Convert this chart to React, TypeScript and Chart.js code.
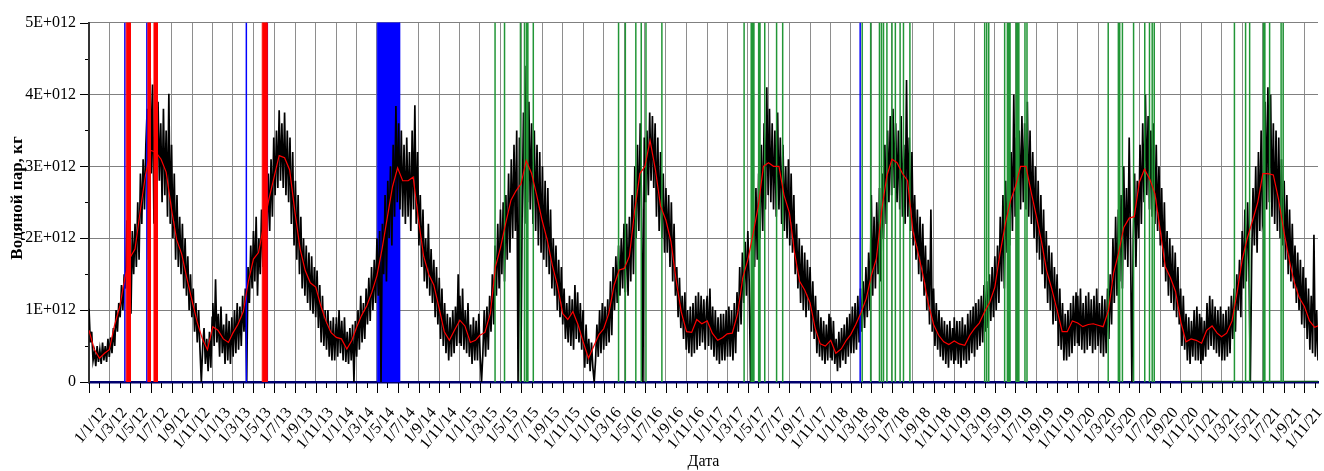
import React, { useEffect, useRef } from "react";
import { Chart, registerables } from "chart.js";

Chart.register(...registerables);

const SERIF = '"Liberation Serif", "Times New Roman", serif';

// Axis tick labels (d/m/yy), one every two months
const xTickLabels = [
  "1/1/12", "1/3/12", "1/5/12", "1/7/12", "1/9/12", "1/11/12",
  "1/1/13", "1/3/13", "1/5/13", "1/7/13", "1/9/13", "1/11/13",
  "1/1/14", "1/3/14", "1/5/14", "1/7/14", "1/9/14", "1/11/14",
  "1/1/15", "1/3/15", "1/5/15", "1/7/15", "1/9/15", "1/11/15",
  "1/1/16", "1/3/16", "1/5/16", "1/7/16", "1/9/16", "1/11/16",
  "1/1/17", "1/3/17", "1/5/17", "1/7/17", "1/9/17", "1/11/17",
  "1/1/18", "1/3/18", "1/5/18", "1/7/18", "1/9/18", "1/11/18",
  "1/1/19", "1/3/19", "1/5/19", "1/7/19", "1/9/19", "1/11/19",
  "1/1/20", "1/3/20", "1/5/20", "1/7/20", "1/9/20", "1/11/20",
  "1/1/21", "1/3/21", "1/5/21", "1/7/21", "1/9/21", "1/11/21",
];
const yTickValues = [0, 1, 2, 3, 4, 5]; // ×1E+012 kg

// Water vapour mass, ×1E+012 kg, sampled every 4 days from 1 January of each year
const vapour2012 = [
  1.02, 0.55, 0.70, 0.30, 0.42, 0.22, 0.50, 0.28, 0.45, 0.25, 0.55, 0.30, 0.50, 0.28, 0.60, 0.35, 0.62, 0.40, 0.75, 0.50, 1.00, 0.70, 1.10,
  0.90, 1.35, 1.00, 1.50, 1.30, 2.25, 1.20, 1.80, 0.95, 2.10, 1.50, 2.20, 1.60, 2.50, 1.70, 2.90, 2.20, 3.10, 2.40, 3.30, 3.80, 1.70, 4.58,
  2.90, 4.14, 2.20, 3.70, 2.60, 3.90, 2.80, 3.60, 2.50, 3.80, 2.60, 3.50, 2.30, 4.01, 2.20, 3.30, 2.00, 2.90, 1.70, 2.60, 1.60, 2.30, 1.50,
  2.20, 1.30, 2.00, 1.20, 1.75, 1.00, 1.50, 0.90, 1.30, 0.70, 1.10, 0.55, 1.00, 0.45, 0.00, 0.50, 0.75, 0.25, 0.60, 0.15, 0.70, 0.20, 0.90,
];
const vapour2013 = [
  1.10, 0.50, 1.43, 0.55, 0.95, 0.35, 1.05, 0.40, 0.80, 0.25, 0.95, 0.30, 0.85, 0.25, 0.90, 0.35, 1.00, 0.40, 1.10, 0.45, 1.05, 0.50, 1.20,
  0.70, 1.30, 0.00, 1.60, 1.10, 1.90, 1.30, 2.10, 1.40, 2.30, 1.20, 2.00, 1.50, 2.40, 1.60, 2.50, 3.60, 2.00, 2.90, 2.10, 3.10, 2.30, 3.40,
  2.60, 3.50, 2.70, 3.78, 2.80, 3.60, 2.70, 3.75, 2.60, 3.50, 2.50, 3.40, 2.20, 3.20, 1.90, 2.80, 1.70, 2.60, 1.50, 2.30, 1.30, 2.00, 1.20,
  1.90, 1.10, 1.80, 1.00, 1.75, 0.95, 1.60, 0.90, 1.55, 0.75, 1.35, 0.55, 1.20, 0.50, 1.00, 0.45, 1.00, 0.35, 0.85, 0.30, 0.90, 0.30, 0.80,
];
const vapour2014 = [
  0.90, 0.35, 1.00, 0.40, 0.85, 0.30, 0.90, 0.28, 0.70, 0.25, 0.75, 0.30, 0.80, 0.00, 0.85, 0.35, 1.00, 0.45, 1.20, 0.55, 1.10, 0.60, 1.30,
  0.80, 1.45, 0.85, 1.60, 1.00, 1.70, 1.10, 2.00, 1.20, 2.10, 0.00, 2.20, 1.50, 2.60, 1.40, 2.80, 2.00, 3.00, 1.90, 3.30, 2.30, 3.84, 2.50,
  3.60, 2.40, 3.50, 2.30, 3.30, 2.20, 3.40, 2.30, 3.20, 2.10, 3.50, 2.40, 3.85, 2.20, 3.20, 1.90, 2.60, 1.60, 2.40, 1.40, 2.00, 1.30, 2.20,
  1.20, 1.85, 1.10, 1.70, 0.90, 1.60, 0.80, 1.45, 0.60, 1.30, 0.50, 1.10, 0.40, 0.95, 0.30, 0.90, 0.35, 1.00, 0.40, 1.05, 0.50, 1.50, 0.55,
];
const vapour2015 = [
  1.20, 0.50, 1.30, 0.45, 1.00, 0.40, 1.10, 0.35, 0.80, 0.25, 0.90, 0.30, 0.85, 0.30, 0.95, 0.35, 0.00, 0.40, 1.00, 0.35, 1.05, 0.45, 1.20,
  0.70, 1.50, 0.80, 1.90, 1.20, 2.20, 1.30, 2.40, 1.50, 2.50, 1.40, 2.60, 1.70, 2.90, 1.80, 3.10, 2.00, 3.30, 2.10, 3.50, 0.00, 3.40, 0.00,
  2.30, 3.75, 2.20, 4.40, 2.50, 3.90, 2.40, 3.60, 2.20, 3.50, 2.10, 3.30, 1.90, 3.20, 1.80, 3.00, 1.70, 2.80, 1.60, 2.70, 1.50, 2.40, 1.30,
  2.00, 1.20, 1.90, 1.00, 1.70, 0.90, 1.60, 0.80, 1.30, 0.60, 1.10, 0.55, 1.20, 0.50, 1.15, 0.45, 1.35, 0.60, 1.25, 0.55, 1.10, 0.45, 1.00,
];
const vapour2016 = [
  0.75, 0.20, 0.80, 0.25, 0.60, 0.15, 0.55, 0.20, 0.00, 0.30, 0.80, 0.35, 1.00, 0.40, 1.10, 0.45, 1.05, 0.50, 1.15, 0.55, 1.40, 0.65, 1.60,
  1.00, 1.75, 1.10, 1.90, 1.20, 2.00, 1.30, 2.20, 1.25, 2.20, 1.20, 2.30, 1.40, 2.60, 1.50, 3.00, 2.00, 3.30, 2.10, 3.60, 2.40, 0.00, 3.40,
  2.50, 3.50, 2.60, 3.75, 2.80, 3.70, 2.70, 3.60, 2.30, 3.40, 2.10, 3.20, 2.00, 2.90, 1.80, 2.70, 1.80, 2.60, 1.60, 2.50, 1.40, 2.20, 1.20,
  1.60, 0.90, 1.45, 0.75, 1.20, 0.60, 1.25, 0.45, 1.00, 0.40, 1.05, 0.35, 1.10, 0.40, 1.20, 0.45, 1.25, 0.50, 1.20, 0.55, 1.15, 0.45, 1.10,
];
const vapour2017 = [
  1.20, 0.50, 1.30, 0.45, 1.05, 0.35, 1.00, 0.30, 0.90, 0.25, 0.95, 0.30, 0.95, 0.30, 1.00, 0.35, 1.05, 0.35, 1.00, 0.30, 1.10, 0.40, 1.25,
  0.70, 1.60, 0.80, 1.80, 1.10, 1.95, 1.20, 2.10, 1.40, 0.00, 1.50, 2.40, 1.60, 2.70, 1.70, 2.90, 2.00, 3.30, 2.10, 3.60, 2.40, 4.10, 2.60,
  3.80, 2.50, 3.60, 2.40, 3.50, 2.30, 3.75, 2.40, 3.40, 2.20, 3.30, 2.10, 3.00, 2.00, 3.10, 1.90, 2.90, 1.80, 2.60, 1.50, 2.20, 1.30, 2.00,
  1.10, 1.90, 1.00, 1.80, 0.90, 1.70, 1.00, 1.60, 0.70, 1.40, 0.60, 1.20, 0.40, 1.00, 0.35, 0.90, 0.30, 0.85, 0.25, 0.80, 0.30, 0.95, 0.35,
];
const vapour2018 = [
  0.90, 0.30, 0.85, 0.25, 0.60, 0.15, 0.70, 0.20, 0.75, 0.30, 0.80, 0.25, 0.90, 0.35, 0.95, 0.40, 1.05, 0.40, 1.10, 0.45, 1.20, 0.55, 1.30,
  0.70, 1.40, 0.75, 1.60, 0.90, 1.80, 1.00, 2.60, 1.20, 2.30, 1.30, 2.50, 1.50, 2.70, 1.40, 2.90, 2.00, 3.30, 2.20, 3.50, 2.50, 3.70, 2.60,
  3.80, 2.70, 3.60, 2.50, 3.50, 2.40, 3.70, 2.30, 3.30, 2.20, 4.20, 2.30, 3.40, 2.10, 3.20, 1.90, 2.60, 1.70, 2.40, 1.50, 2.30, 1.40, 2.20,
  1.20, 1.90, 1.00, 1.70, 0.80, 2.40, 0.70, 1.30, 0.50, 1.10, 0.45, 1.00, 0.35, 0.90, 0.30, 0.85, 0.25, 0.80, 0.20, 0.85, 0.30, 0.75, 0.25,
];
const vapour2019 = [
  0.90, 0.30, 0.85, 0.25, 0.85, 0.20, 0.90, 0.30, 0.80, 0.25, 0.95, 0.30, 1.00, 0.40, 1.05, 0.35, 1.10, 0.45, 1.15, 0.50, 1.20, 0.55, 1.35,
  0.70, 1.40, 0.75, 1.50, 0.85, 1.60, 0.90, 1.75, 1.00, 1.90, 1.10, 2.30, 1.40, 2.60, 1.30, 2.80, 1.80, 3.00, 1.90, 3.20, 2.10, 4.00, 2.30,
  3.40, 2.30, 3.50, 2.40, 3.70, 2.50, 3.60, 2.40, 3.90, 2.30, 3.50, 2.20, 3.20, 2.00, 3.00, 1.80, 2.80, 1.70, 2.60, 1.50, 2.40, 1.30, 2.10,
  1.10, 1.90, 1.00, 1.80, 0.80, 1.60, 0.85, 1.50, 0.50, 1.30, 0.45, 1.10, 0.30, 0.95, 0.30, 1.00, 0.35, 1.10, 0.40, 1.20, 0.50, 1.25, 0.55,
];
const vapour2020 = [
  1.20, 0.50, 1.30, 0.45, 1.10, 0.40, 1.20, 0.45, 1.25, 0.50, 1.15, 0.40, 1.20, 0.45, 1.30, 0.50, 1.10, 0.40, 1.20, 0.35, 1.15, 0.40, 1.30,
  0.60, 1.50, 0.80, 2.00, 1.10, 2.30, 1.20, 2.40, 1.40, 2.60, 1.30, 3.00, 1.70, 2.70, 1.60, 3.40, 1.90, 0.00, 2.00, 2.90, 1.60, 2.80, 2.00,
  3.30, 2.20, 3.60, 2.50, 4.00, 2.60, 3.70, 2.40, 3.50, 2.30, 3.60, 2.20, 3.30, 2.10, 3.00, 1.90, 2.70, 1.60, 2.50, 1.40, 2.10, 1.20, 2.00,
  1.10, 1.90, 1.00, 1.80, 0.90, 1.60, 0.80, 1.30, 0.50, 1.20, 0.45, 0.95, 0.30, 0.90, 0.25, 0.85, 0.35, 1.00, 0.30, 1.05, 0.30, 0.95, 0.25,
];
const vapour2021 = [
  0.90, 0.30, 0.85, 0.35, 1.10, 0.45, 1.20, 0.50, 1.15, 0.45, 1.05, 0.40, 1.00, 0.35, 1.05, 0.30, 0.95, 0.30, 1.00, 0.35, 1.05, 0.40, 1.20,
  0.60, 1.30, 0.70, 1.50, 1.00, 1.70, 0.90, 2.10, 1.30, 2.40, 1.40, 2.50, 1.60, 0.00, 1.70, 2.70, 1.90, 3.00, 1.80, 3.20, 2.10, 3.50, 2.20,
  2.30, 3.90, 2.40, 4.10, 2.50, 4.00, 2.30, 3.60, 2.20, 3.50, 2.10, 3.40, 2.00, 3.10, 1.90, 2.80, 1.70, 2.60, 1.50, 2.40, 1.40, 2.20, 1.30,
  1.90, 1.10, 1.80, 1.00, 1.70, 0.80, 1.60, 0.75, 1.45, 0.60, 1.30, 0.45, 1.20, 0.40, 2.05, 0.35, 1.00, 0.30,
];

// Smoothed water vapour, ×1E+012 kg, on the 1st and 16th of each month
const smooth2012 = [0.72, 0.46, 0.33, 0.40, 0.45, 0.78, 1.05, 1.45, 1.73, 1.85, 2.40, 2.88, 3.22, 3.20, 3.10, 2.92, 2.40, 1.98, 1.78, 1.45, 1.12, 0.83, 0.60, 0.45];
const smooth2013 = [0.77, 0.72, 0.60, 0.55, 0.68, 0.80, 0.98, 1.40, 1.71, 1.80, 2.20, 2.55, 2.85, 3.15, 3.12, 2.95, 2.35, 1.85, 1.55, 1.38, 1.32, 1.06, 0.85, 0.69];
const smooth2014 = [0.62, 0.60, 0.46, 0.58, 0.75, 0.92, 1.06, 1.25, 1.48, 1.85, 2.30, 2.72, 2.98, 2.80, 2.80, 2.85, 2.25, 1.75, 1.50, 1.35, 1.02, 0.70, 0.58, 0.72];
const smooth2015 = [0.86, 0.78, 0.55, 0.58, 0.65, 0.69, 0.95, 1.60, 1.87, 2.20, 2.53, 2.66, 2.76, 3.08, 2.90, 2.60, 2.25, 1.98, 1.63, 1.35, 0.95, 0.87, 0.98, 0.80];
const smooth2016 = [0.55, 0.33, 0.50, 0.66, 0.74, 0.95, 1.35, 1.56, 1.58, 1.75, 2.40, 2.90, 3.00, 3.36, 2.95, 2.45, 2.25, 1.95, 1.42, 0.98, 0.70, 0.69, 0.87, 0.81];
const smooth2017 = [0.85, 0.68, 0.58, 0.62, 0.67, 0.68, 0.95, 1.45, 1.70, 2.05, 2.45, 3.00, 3.05, 3.00, 3.00, 2.60, 2.35, 1.80, 1.40, 1.28, 1.10, 0.75, 0.53, 0.50];
const smooth2018 = [0.58, 0.40, 0.46, 0.58, 0.66, 0.80, 0.97, 1.16, 1.48, 1.72, 2.40, 2.87, 3.10, 3.05, 2.90, 2.80, 2.10, 1.80, 1.48, 1.10, 0.80, 0.65, 0.56, 0.52];
const smooth2019 = [0.57, 0.53, 0.51, 0.65, 0.74, 0.82, 0.98, 1.11, 1.32, 1.78, 2.20, 2.52, 2.72, 3.00, 3.00, 2.65, 2.30, 1.95, 1.55, 1.30, 1.00, 0.70, 0.70, 0.85];
const smooth2020 = [0.82, 0.77, 0.80, 0.81, 0.79, 0.77, 1.00, 1.52, 1.80, 2.15, 2.28, 2.30, 2.78, 2.96, 2.82, 2.62, 2.10, 1.60, 1.45, 1.26, 0.83, 0.56, 0.60, 0.58];
const smooth2021 = [0.54, 0.72, 0.78, 0.68, 0.63, 0.68, 0.85, 1.25, 1.70, 2.00, 2.25, 2.50, 2.90, 2.90, 2.88, 2.55, 2.10, 1.72, 1.40, 1.18, 1.05, 0.85, 0.76, 0.79];

// Event days (start, end)
const blueEvents = [
  ["2012-04-16", "2012-04-16"],
  ["2012-06-20", "2012-06-20"],
  ["2013-04-10", "2013-04-10"],
  ["2013-06-11", "2013-06-11"],
  ["2018-03-29", "2018-03-29"],
];
const blueBand = [["2014-05-02", "2014-07-07"]];
const redEvents = [
  ["2012-04-20", "2012-05-02"],
  ["2012-06-23", "2012-06-30"],
  ["2012-07-11", "2012-07-21"],
  ["2013-05-27", "2013-06-10"],
];
const greenEventDays = [
  "2015-04-15", "2015-05-13", "2015-06-29", "2015-07-11", "2015-07-17", "2015-07-21", "2015-08-06",
  "2016-04-14", "2016-05-04", "2016-06-04", "2016-06-20", "2016-07-04", "2016-08-20",
  "2017-04-20", "2017-05-11", "2017-05-15", "2017-05-19", "2017-06-02", "2017-06-06", "2017-06-20", "2017-07-25", "2017-08-12",
  "2018-04-04", "2018-04-29", "2018-05-25", "2018-05-31", "2018-06-06", "2018-06-16", "2018-07-01", "2018-07-11", "2018-07-25", "2018-08-04", "2018-08-23",
  "2019-04-01", "2019-04-07", "2019-04-13", "2019-05-30", "2019-06-07", "2019-06-11", "2019-06-15", "2019-07-03", "2019-07-07", "2019-07-11", "2019-07-29", "2019-08-04",
  "2020-03-31", "2020-04-30", "2020-05-04", "2020-05-12", "2020-06-14", "2020-07-17", "2020-07-31", "2020-08-08", "2020-08-14",
  "2021-04-08", "2021-05-11", "2021-05-23", "2021-07-03", "2021-07-07", "2021-07-21", "2021-08-24", "2021-08-30",
];
const greenBaselineStart = "2020-11-02";

// ---- calendar helpers (x axis is days since 1 Jan 2012) ----
const EPOCH = Date.UTC(2012, 0, 1);
const DAY_MS = 86400000;
const dayOf = (y: number, m: number, d: number) => Math.round((Date.UTC(y, m - 1, d) - EPOCH) / DAY_MS);
const dayOfIso = (s: string) => {
  const [y, m, d] = s.split("-").map(Number);
  return dayOf(y, m, d);
};
const dayOfLabel = (s: string) => {
  const [d, m, yy] = s.split("/").map(Number);
  return dayOf(2000 + yy, m, d);
};
const X_MAX = dayOf(2021, 12, 11);
const Y_TOP = yTickValues[yTickValues.length - 1];

const majorDays = xTickLabels.map(dayOfLabel);
const monthStarts: { day: number; major: boolean }[] = [];
for (let y = 2012; y <= 2021; y++) {
  for (let m = 1; m <= 12; m++) {
    const d = dayOf(y, m, 1);
    if (d <= X_MAX) monthStarts.push({ day: d, major: m % 2 === 1 });
  }
}

const vapourByYear: [number, number[]][] = [
  [2012, vapour2012], [2013, vapour2013], [2014, vapour2014], [2015, vapour2015], [2016, vapour2016],
  [2017, vapour2017], [2018, vapour2018], [2019, vapour2019], [2020, vapour2020], [2021, vapour2021],
];
const smoothByYear: [number, number[]][] = [
  [2012, smooth2012], [2013, smooth2013], [2014, smooth2014], [2015, smooth2015], [2016, smooth2016],
  [2017, smooth2017], [2018, smooth2018], [2019, smooth2019], [2020, smooth2020], [2021, smooth2021],
];

const vapourPoints = vapourByYear.flatMap(([year, vals]) =>
  vals.map((v, i) => ({ x: dayOf(year, 1, 1) + 4 * i, y: v }))
);
const smoothPoints = smoothByYear.flatMap(([year, vals]) =>
  vals.map((v, k) => ({ x: dayOf(year, Math.floor(k / 2) + 1, k % 2 ? 16 : 1), y: v }))
);

function eventPath(ranges: string[][]) {
  const pts: { x: number; y: number | null }[] = [];
  ranges.forEach(([a, b]) => {
    const s = dayOfIso(a);
    const e = dayOfIso(b);
    pts.push({ x: s, y: 0 }, { x: s, y: Y_TOP }, { x: e, y: Y_TOP }, { x: e, y: 0 }, { x: e, y: null });
  });
  return pts;
}

const axisDecor = {
  id: "axisDecor",
  afterDraw(chart: any) {
    const { ctx, chartArea } = chart;
    const xs = chart.scales.x;
    const ys = chart.scales.y;
    const bottom = chartArea.bottom;
    const left = chartArea.left;
    ctx.save();
    ctx.strokeStyle = "#000";
    ctx.lineWidth = 1;
    ctx.beginPath();
    monthStarts.forEach(({ day, major }) => {
      const px = Math.round(xs.getPixelForValue(day)) + 0.5;
      ctx.moveTo(px, bottom + 1);
      ctx.lineTo(px, bottom + (major ? 11 : 6));
    });
    for (let v = 0; v <= Y_TOP; v += 0.5) {
      const py = Math.round(ys.getPixelForValue(v)) + 0.5;
      const major = Number.isInteger(v);
      ctx.moveTo(left - (major ? 9 : 4), py);
      ctx.lineTo(left - 1, py);
    }
    ctx.stroke();

    ctx.fillStyle = "#000";
    ctx.font = `16px ${SERIF}`;
    ctx.textAlign = "right";
    ctx.textBaseline = "middle";
    xTickLabels.forEach((label, i) => {
      const px = xs.getPixelForValue(majorDays[i]);
      ctx.save();
      ctx.translate(px + 15, bottom + 28);
      ctx.rotate((-50 * Math.PI) / 180);
      ctx.fillText(label, 0, 0);
      ctx.restore();
    });

    ctx.textAlign = "center";
    ctx.font = `16px ${SERIF}`;
    ctx.fillText("Дата", (chartArea.left + chartArea.right) / 2, 462);

    ctx.save();
    ctx.translate(18, 198);
    ctx.rotate(-Math.PI / 2);
    ctx.font = `bold 17px ${SERIF}`;
    ctx.fillText("Водяной пар, кг", 0, 0);
    ctx.restore();
    ctx.restore();
  },
};

export default function App() {
  const canvasRef = useRef<HTMLCanvasElement | null>(null);

  useEffect(() => {
    const canvas = canvasRef.current;
    if (!canvas) return;
    const chart = new Chart(canvas, {
      type: "line",
      data: {
        datasets: [
          {
            label: "smooth",
            data: smoothPoints,
            borderColor: "#ff0000",
            borderWidth: 1.2,
            pointRadius: 0,
            order: 0,
          },
          {
            label: "red events",
            data: eventPath(redEvents),
            borderColor: "#ff0000",
            backgroundColor: "#ff0000",
            borderWidth: 1,
            fill: "origin",
            pointRadius: 0,
            borderJoinStyle: "bevel",
            order: 1,
          },
          {
            label: "blue events",
            data: eventPath(blueEvents),
            borderColor: "#0000ff",
            borderWidth: 1.5,
            pointRadius: 0,
            borderJoinStyle: "bevel",
            order: 1,
          },
          {
            label: "green events",
            data: eventPath(greenEventDays.map((d) => [d, d])),
            borderColor: "rgb(34,150,55)",
            borderWidth: 1.5,
            pointRadius: 0,
            borderJoinStyle: "bevel",
            order: 1,
          },
          {
            label: "green baseline",
            data: [
              { x: dayOfIso(greenBaselineStart), y: 0 },
              { x: X_MAX, y: 0 },
            ],
            borderColor: "#0b4f1c",
            borderWidth: 2.5,
            pointRadius: 0,
            order: 1,
          },
          {
            label: "vapour",
            data: vapourPoints,
            borderColor: "#000000",
            borderWidth: 1.7,
            pointRadius: 0,
            order: 2,
          },
          {
            label: "blue band",
            data: eventPath(blueBand),
            borderColor: "#0000ff",
            backgroundColor: "#0000ff",
            borderWidth: 1,
            fill: "origin",
            pointRadius: 0,
            order: 3,
          },
        ],
      },
      options: {
        responsive: false,
        maintainAspectRatio: false,
        animation: false,
        layout: { padding: { left: 0, right: 6, top: 22, bottom: 0 } },
        plugins: { legend: { display: false }, tooltip: { enabled: false } },
        elements: { point: { radius: 0 }, line: { tension: 0 } },
        scales: {
          x: {
            type: "linear",
            min: 0,
            max: X_MAX,
            afterBuildTicks: (scale: any) => {
              scale.ticks = majorDays.map((v) => ({ value: v }));
            },
            afterFit: (scale: any) => {
              scale.height = 89;
            },
            ticks: { display: false },
            grid: { color: "#8e8e8e", lineWidth: 1, drawTicks: false },
            border: { display: true, color: "#00006e", width: 2.5 },
          },
          y: {
            type: "linear",
            min: 0,
            max: Y_TOP,
            afterBuildTicks: (scale: any) => {
              scale.ticks = yTickValues.map((v) => ({ value: v }));
            },
            afterFit: (scale: any) => {
              scale.width = 89;
            },
            ticks: {
              padding: 13,
              color: "#000",
              font: { family: SERIF, size: 16 },
              callback: (v: any) => (Number(v) === 0 ? "0" : `${v}E+012`),
            },
            grid: { color: "#808080", lineWidth: 1, drawTicks: false },
            border: { display: true, color: "#333333", width: 2 },
          },
        },
      },
      plugins: [axisDecor],
    } as any);
    return () => chart.destroy();
  }, []);

  return (
    <div style={{ position: "fixed", left: 0, top: 0, width: 1324, height: 471, background: "#fff" }}>
      <canvas ref={canvasRef} width={1324} height={471} style={{ display: "block" }} />
    </div>
  );
}
